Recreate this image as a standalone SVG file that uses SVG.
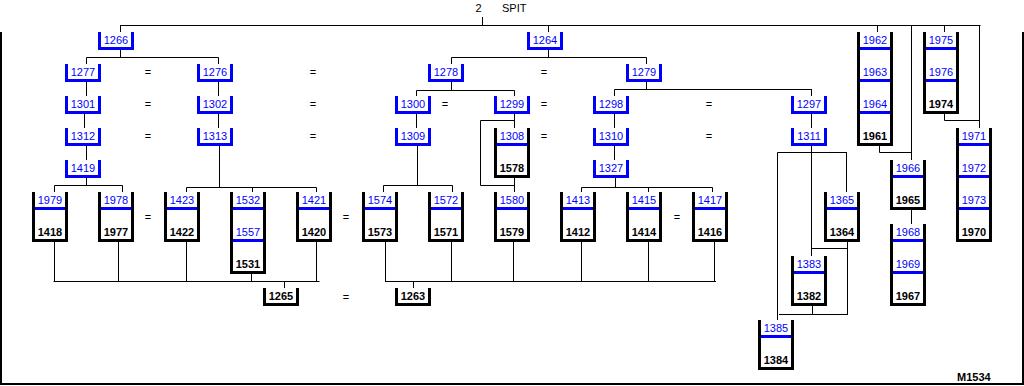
<svg xmlns="http://www.w3.org/2000/svg" width="1024" height="386" viewBox="0 0 1024 386">
<style>
.bb{fill:none;stroke:#0000ff;stroke-width:3}
.kb{fill:none;stroke:#000;stroke-width:3}
.dv{stroke:#0000ff;stroke-width:3}
.c{fill:none;stroke:#000;stroke-width:1}
.fr{fill:none;stroke:#000;stroke-width:2}
text{font-family:"Liberation Sans",Arial,sans-serif;font-size:11px}
.tb{fill:#0000ff;text-anchor:middle}
.tk{fill:#000;font-weight:bold;text-anchor:middle}
.eq{fill:#000;text-anchor:middle}
</style>
<rect width="1024" height="386" fill="#fff"/>
<path class="fr" d="M1 32V385M1023 32V385M0 384H1024"/>
<text x="478.5" y="12" text-anchor="middle">2</text>
<text x="502" y="12">SPIT</text>
<text x="957" y="381" font-weight="bold">M1534</text>

<g id="connectors">
<path class="c" d="M120 25.5H980.5M482.5 17V25M120.5 25V32M548.5 25V32M877.5 25V32M911.5 25V160M944.5 25V32M979.5 25V128
M120.5 50V57.5M86.5 57.5H218.5M86.5 57.5V64M218.5 57.5V64
M86.5 82V96M84.5 114V128M86.5 146V160
M86.5 178V185.5M54.5 185.5H122.5M54.5 185.5V192M122.5 185.5V192
M218.5 82V96M218.5 114V128M219.5 146V187.5M186.5 187.5H316.5M186.5 187.5V192M252.5 187.5V192M316.5 187.5V192
M54.5 242V282M118.5 242V282M186.5 242V282M251.5 274V282M316.5 242V282M53.5 281.5H319.5M284.5 282V288
M548.5 50V57.5M451.5 57.5H646.5M451.5 57.5V64M646.5 57.5V64
M451.5 82V90.5M416.5 90.5H514.5M416.5 90.5V96M514.5 90.5V96
M416.5 114V128M417.5 146V185.5M383.5 185.5H452.5M383.5 185.5V192M452.5 185.5V192
M514.5 114V128M480.5 120.5H514.5M480.5 120.5V185.5M480.5 185.5H514.5M514.5 178V192
M646.5 82V89.5M614.5 89.5H812M614.5 89.5V96M811.5 89.5V96
M614.5 114V128M614.5 146V160M615.5 178V187.5M581.5 187.5H712.5M581.5 187.5V192M648.5 187.5V192M712.5 187.5V192
M811.5 114V128
M385.5 242V282M451.5 242V282M513.5 242V282M581.5 242V282M648.5 242V282M714.5 242V282M385.5 281.5H716M413.5 282V288
M811.5 146V256M777.5 152.5H847M846.5 152.5V192M777.5 152.5V320M811.5 248.5H848M847.5 242V314.5M779 314.5H848M812.5 306V314.5
M879.5 146V152.5M879.5 152.5H911.5
M944.5 114V120.5M944.5 120.5H979.5
M911.5 210V224"/>
</g>

<!-- small blue boxes -->
<g id="n1266"><path class="bb" d="M99.5 32V48.5H132.5V32"/><text class="tb" x="116" y="44">1266</text></g>
<g id="n1264"><path class="bb" d="M528.5 32V48.5H561.5V32"/><text class="tb" x="545" y="44">1264</text></g>
<g id="n1277"><path class="bb" d="M66.5 64V80.5H99.5V64"/><text class="tb" x="83" y="76">1277</text></g>
<g id="n1276"><path class="bb" d="M198.5 64V80.5H231.5V64"/><text class="tb" x="215" y="76">1276</text></g>
<g id="n1278"><path class="bb" d="M429.5 64V80.5H462.5V64"/><text class="tb" x="446" y="76">1278</text></g>
<g id="n1279"><path class="bb" d="M627.5 64V80.5H660.5V64"/><text class="tb" x="644" y="76">1279</text></g>
<g id="n1301"><path class="bb" d="M66.5 96V112.5H99.5V96"/><text class="tb" x="83" y="108">1301</text></g>
<g id="n1302"><path class="bb" d="M198.5 96V112.5H231.5V96"/><text class="tb" x="215" y="108">1302</text></g>
<g id="n1300"><path class="bb" d="M396.5 96V112.5H429.5V96"/><text class="tb" x="413" y="108">1300</text></g>
<g id="n1299"><path class="bb" d="M495.5 96V112.5H528.5V96"/><text class="tb" x="512" y="108">1299</text></g>
<g id="n1298"><path class="bb" d="M594.5 96V112.5H627.5V96"/><text class="tb" x="611" y="108">1298</text></g>
<g id="n1297"><path class="bb" d="M792.5 96V112.5H825.5V96"/><text class="tb" x="809" y="108">1297</text></g>
<g id="n1312"><path class="bb" d="M66.5 128V144.5H99.5V128"/><text class="tb" x="83" y="140">1312</text></g>
<g id="n1313"><path class="bb" d="M198.5 128V144.5H231.5V128"/><text class="tb" x="215" y="140">1313</text></g>
<g id="n1309"><path class="bb" d="M396.5 128V144.5H429.5V128"/><text class="tb" x="413" y="140">1309</text></g>
<g id="n1310"><path class="bb" d="M594.5 128V144.5H627.5V128"/><text class="tb" x="611" y="140">1310</text></g>
<g id="n1311"><path class="bb" d="M792.5 128V144.5H825.5V128"/><text class="tb" x="809" y="140">1311</text></g>
<g id="n1419"><path class="bb" d="M66.5 160V176.5H99.5V160"/><text class="tb" x="83" y="172">1419</text></g>
<g id="n1327"><path class="bb" d="M594.5 160V176.5H627.5V160"/><text class="tb" x="611" y="172">1327</text></g>

<!-- black small boxes -->
<g id="n1265"><path class="kb" d="M264.5 288V304.5H297.5V288"/><text class="tk" x="281" y="300">1265</text></g>
<g id="n1263"><path class="kb" d="M396.5 288V304.5H429.5V288"/><text class="tk" x="413" y="300">1263</text></g>

<!-- tall boxes -->
<g id="n1308"><path class="kb" d="M495.5 128V176.5H528.5V128"/><line class="dv" x1="497" y1="144.5" x2="527" y2="144.5"/><text class="tb" x="512" y="140">1308</text><text class="tk" x="512" y="172">1578</text></g>

<g id="n1418"><path class="kb" d="M33.5 192V240.5H66.5V192"/><line class="dv" x1="35" y1="208.5" x2="65" y2="208.5"/><text class="tb" x="50" y="204">1979</text><text class="tk" x="50" y="236">1418</text></g>
<g id="n1977"><path class="kb" d="M99.5 192V240.5H132.5V192"/><line class="dv" x1="101" y1="208.5" x2="131" y2="208.5"/><text class="tb" x="116" y="204">1978</text><text class="tk" x="116" y="236">1977</text></g>
<g id="n1422"><path class="kb" d="M165.5 192V240.5H198.5V192"/><line class="dv" x1="167" y1="208.5" x2="197" y2="208.5"/><text class="tb" x="182" y="204">1423</text><text class="tk" x="182" y="236">1422</text></g>
<g id="n1531"><path class="kb" d="M231.5 192V272.5H264.5V192"/><line class="dv" x1="233" y1="208.5" x2="263" y2="208.5"/><line class="dv" x1="233" y1="240.5" x2="263" y2="240.5"/><text class="tb" x="248" y="204">1532</text><text class="tb" x="248" y="236">1557</text><text class="tk" x="248" y="268">1531</text></g>
<g id="n1420"><path class="kb" d="M297.5 192V240.5H330.5V192"/><line class="dv" x1="299" y1="208.5" x2="329" y2="208.5"/><text class="tb" x="314" y="204">1421</text><text class="tk" x="314" y="236">1420</text></g>
<g id="n1573"><path class="kb" d="M363.5 192V240.5H396.5V192"/><line class="dv" x1="365" y1="208.5" x2="395" y2="208.5"/><text class="tb" x="380" y="204">1574</text><text class="tk" x="380" y="236">1573</text></g>
<g id="n1571"><path class="kb" d="M429.5 192V240.5H462.5V192"/><line class="dv" x1="431" y1="208.5" x2="461" y2="208.5"/><text class="tb" x="446" y="204">1572</text><text class="tk" x="446" y="236">1571</text></g>
<g id="n1579"><path class="kb" d="M495.5 192V240.5H528.5V192"/><line class="dv" x1="497" y1="208.5" x2="527" y2="208.5"/><text class="tb" x="512" y="204">1580</text><text class="tk" x="512" y="236">1579</text></g>
<g id="n1412"><path class="kb" d="M561.5 192V240.5H594.5V192"/><line class="dv" x1="563" y1="208.5" x2="593" y2="208.5"/><text class="tb" x="578" y="204">1413</text><text class="tk" x="578" y="236">1412</text></g>
<g id="n1414"><path class="kb" d="M627.5 192V240.5H660.5V192"/><line class="dv" x1="629" y1="208.5" x2="659" y2="208.5"/><text class="tb" x="644" y="204">1415</text><text class="tk" x="644" y="236">1414</text></g>
<g id="n1416"><path class="kb" d="M693.5 192V240.5H726.5V192"/><line class="dv" x1="695" y1="208.5" x2="725" y2="208.5"/><text class="tb" x="710" y="204">1417</text><text class="tk" x="710" y="236">1416</text></g>

<g id="n1364"><path class="kb" d="M825.5 192V240.5H858.5V192"/><line class="dv" x1="827" y1="208.5" x2="857" y2="208.5"/><text class="tb" x="842" y="204">1365</text><text class="tk" x="842" y="236">1364</text></g>
<g id="n1382"><path class="kb" d="M792.5 256V304.5H825.5V256"/><line class="dv" x1="794" y1="272.5" x2="824" y2="272.5"/><text class="tb" x="809" y="268">1383</text><text class="tk" x="809" y="300">1382</text></g>
<g id="n1384"><path class="kb" d="M759.5 320V368.5H792.5V320"/><line class="dv" x1="761" y1="336.5" x2="791" y2="336.5"/><text class="tb" x="776" y="332">1385</text><text class="tk" x="776" y="364">1384</text></g>

<g id="n1961"><path class="kb" d="M858.5 32V144.5H891.5V32"/><line class="dv" x1="860" y1="48.5" x2="890" y2="48.5"/><line class="dv" x1="860" y1="80.5" x2="890" y2="80.5"/><line class="dv" x1="860" y1="112.5" x2="890" y2="112.5"/><text class="tb" x="875" y="44">1962</text><text class="tb" x="875" y="76">1963</text><text class="tb" x="875" y="108">1964</text><text class="tk" x="875" y="140">1961</text></g>
<g id="n1974"><path class="kb" d="M924.5 32V112.5H957.5V32"/><line class="dv" x1="926" y1="48.5" x2="956" y2="48.5"/><line class="dv" x1="926" y1="80.5" x2="956" y2="80.5"/><text class="tb" x="941" y="44">1975</text><text class="tb" x="941" y="76">1976</text><text class="tk" x="941" y="108">1974</text></g>
<g id="n1965"><path class="kb" d="M891.5 160V208.5H924.5V160"/><line class="dv" x1="893" y1="176.5" x2="923" y2="176.5"/><text class="tb" x="908" y="172">1966</text><text class="tk" x="908" y="204">1965</text></g>
<g id="n1967"><path class="kb" d="M891.5 224V304.5H924.5V224"/><line class="dv" x1="893" y1="240.5" x2="923" y2="240.5"/><line class="dv" x1="893" y1="272.5" x2="923" y2="272.5"/><text class="tb" x="908" y="236">1968</text><text class="tb" x="908" y="268">1969</text><text class="tk" x="908" y="300">1967</text></g>
<g id="n1970"><path class="kb" d="M957.5 128V240.5H990.5V128"/><line class="dv" x1="959" y1="144.5" x2="989" y2="144.5"/><line class="dv" x1="959" y1="176.5" x2="989" y2="176.5"/><line class="dv" x1="959" y1="208.5" x2="989" y2="208.5"/><text class="tb" x="974" y="140">1971</text><text class="tb" x="974" y="172">1972</text><text class="tb" x="974" y="204">1973</text><text class="tk" x="974" y="236">1970</text></g>

<g id="equals">
<text class="eq" x="148" y="76">=</text><text class="eq" x="313" y="76">=</text><text class="eq" x="544" y="76">=</text>
<text class="eq" x="148" y="108">=</text><text class="eq" x="313" y="108">=</text><text class="eq" x="445" y="108">=</text><text class="eq" x="544" y="108">=</text><text class="eq" x="709" y="108">=</text>
<text class="eq" x="148" y="140">=</text><text class="eq" x="313" y="140">=</text><text class="eq" x="544" y="140">=</text><text class="eq" x="709" y="140">=</text>
<text class="eq" x="148" y="221">=</text><text class="eq" x="346" y="221">=</text><text class="eq" x="677" y="221">=</text>
<text class="eq" x="346" y="301">=</text>
</g>
</svg>
